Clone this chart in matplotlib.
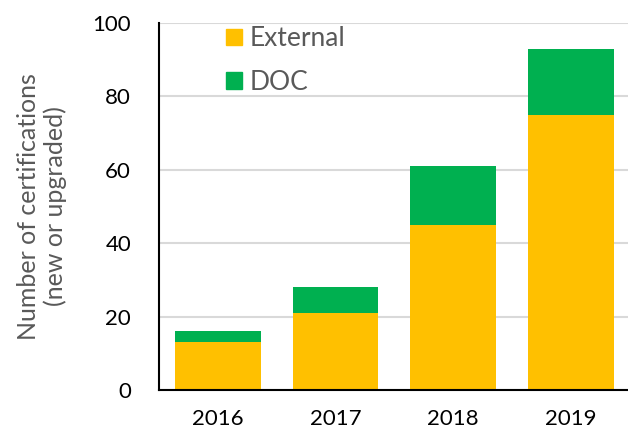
import numpy as np
import matplotlib.pyplot as plt
from matplotlib.patches import Patch

# data
years = ["2016", "2017", "2018", "2019"]
external = [13, 21, 45, 75]
doc = [3, 7, 16, 18]

ext_color = "#FFC000"
doc_color = "#00B050"
grey_text = "#595959"

plt.rcParams["font.family"] = ["Lato", "DejaVu Sans"]

fig = plt.figure(figsize=(6.28, 4.30), dpi=100)
ax = fig.add_axes([0.253, 0.093, 0.75, 0.8535])

x = np.arange(len(years))
ax.bar(x, external, width=0.73, color=ext_color, label="External", zorder=2)
ax.bar(x, doc, width=0.73, bottom=external, color=doc_color, label="DOC", zorder=2)

ax.set_xlim(-0.5, 3.5)
ax.set_ylim(0, 100)
ax.set_yticks(np.arange(0, 101, 20))
ax.set_xticks(x)
ax.set_xticklabels(years)
ax.tick_params(axis="both", length=0, labelsize=16, colors="black")
ax.tick_params(axis="y", pad=20)
ax.tick_params(axis="x", pad=14)

ax.grid(axis="y", color="#D9D9D9", linewidth=1.5, zorder=0)
ax.set_axisbelow(True)
for s in ["top", "right"]:
    ax.spines[s].set_visible(False)
ax.spines["left"].set_linewidth(1.5)
ax.spines["bottom"].set_linewidth(1.5)

ax.set_ylabel("Number of certifications\n(new or upgraded)", fontsize=18,
              color=grey_text, linespacing=1.2, labelpad=18)

handles = [Patch(color=ext_color, label="External"), Patch(color=doc_color, label="DOC")]
leg = ax.legend(handles=handles, loc="upper left", bbox_to_anchor=(0.12, 1.02),
                frameon=False, fontsize=19, handlelength=0.6, handleheight=0.6,
                handletextpad=0.3, labelspacing=0.7, borderaxespad=0)
for t in leg.get_texts():
    t.set_color(grey_text)

fig.savefig("out.png", dpi=100)
